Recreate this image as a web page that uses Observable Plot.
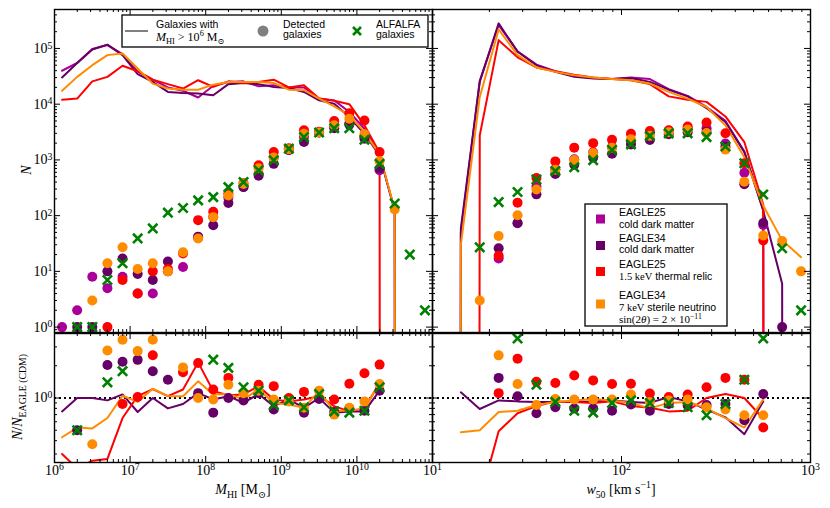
<!DOCTYPE html>
<html><head><meta charset="utf-8">
<script src="https://cdn.jsdelivr.net/npm/d3@7"></script>
<script src="https://cdn.jsdelivr.net/npm/@observablehq/plot@0.6"></script>
<style>
body{margin:0;background:#fff;}
#fig{position:relative;width:830px;height:508px;overflow:hidden;background:#fff;}
</style></head><body><div id="fig"></div>
<script>
// ---------------- data ----------------
// log10(M_HI) bin centres
const massBins = [6.1,6.3,6.5,6.7,6.9,7.1,7.3,7.5,7.7,7.9,8.1,8.3,8.5,8.7,8.9,9.1,9.3,9.5,9.7,9.9,10.1,10.3,10.5,10.7,10.9];
// log10(w50) bin centres
const wBins = [1.05,1.15,1.25,1.35,1.45,1.55,1.65,1.75,1.85,1.95,2.05,2.15,2.25,2.35,2.45,2.55,2.65,2.75,2.85,2.95];

// Top-left: all galaxies (lines), bins 6.1 .. 10.7
const mLineMag = [39800,55000,97700,115000,79400,38900,27500,20000,17400,13200,21400,25100,25700,20900,21900,20000,20000,12600,11700,7240,3630,1260,120,0];
const mLinePur = [30200,55000,95500,117000,75900,34700,25100,16600,15800,15500,14500,22900,24000,22900,20400,19500,16600,11700,10200,5890,2950,1200,126,0];
const mLineRed = [12000,12600,25700,30900,49000,38900,27500,22900,19100,26900,20400,25700,24000,25100,27500,20000,21900,12600,11500,10000,4170,1350,0];
const mLineOra = [17400,30900,50100,75900,81300,43700,23400,19100,18200,18200,22400,25100,25100,25100,24000,18200,17800,12600,9100,6310,3160,1260,129,0];
// Top-left: detected galaxies (dots), bins 6.1 .. 10.9
const mDotMag = [1,2,8,5,8,4,4,10,12,40,95,210,330,560,1100,1600,2600,3100,4000,4500,2600,650,null,null,null];
const mDotPur = [null,1,1,10,17,9,7,15,null,42,67,169,325,520,850,1500,2100,3100,3700,4300,2400,700,null,null,null];
const mDotRed = [null,null,null,1,7,4,10,11,21,83,117,250,380,800,1380,1600,3390,3200,5000,6900,5100,1380,null,null,null];
const mDotOra = [null,null,3,14,27,11,14,10,22,39,94,231,370,710,1100,1550,2950,3100,4200,5500,2900,950,129,null,null];
const mAlfalfa = [null,1,1,7,14,39,59,113,137,188,215,325,400,650,985,1590,2570,3100,3700,3700,2300,850,165,20,2];

// Top-right: all galaxies (lines), bins 1.05 .. 2.95
const wLineMag = [0,50,26300,263000,89100,51300,38900,31600,29500,28200,30200,28200,18600,14100,8910,5010,1410,126,0];
const wLinePur = [0,59,25100,282000,87100,50100,38000,30900,28800,28200,29500,25100,18200,13800,8510,4790,1380,123,6,0];
const wLineRed = [0,0,2750,141000,69200,45700,38900,33900,30200,28200,26900,22900,13800,12000,11000,6030,2090,158,0];
const wLineOra = [0,30,13500,219000,75900,45700,38000,33100,30200,28200,26900,23400,16600,12600,8910,4170,1120,151,36,18];
// Top-right: detected galaxies (dots), bins 1.25 .. 2.95
const wDotMag = [null,17,73,335,680,1025,1370,1700,2170,3000,3320,3690,3710,1960,590,68,null,null];
const wDotPur = [null,26,74,241,558,820,1100,1290,1890,2280,2900,3140,3190,1720,366,74,1,null];
const wDotRed = [null,19,171,475,940,1660,2000,2290,2950,3310,3390,3980,4680,3020,870,36,null,null];
const wDotOra = [3,43,102,295,666,995,1330,1650,2340,2700,3150,3500,3040,1530,407,44,35,10];
const wAlfalfa = [27,175,265,445,630,740,990,1500,1900,2700,3000,3000,2570,1740,870,240,26,2];

// Bottom-left ratios N/N_EAGLE25(CDM), bins 6.1 .. 10.3
const mRatLinePur = [0.75,1.0,1.0,0.95,1.08,0.74,1.0,0.80,0.88,1.11,0.97,1.04,0.90,1.09,0.84,0.97,0.81,1.0,0.73,0.75,0.75,1.17];
const mRatLineRed = [0.30,0.22,0.26,0.27,0.65,1.04,1.21,1.04,1.2,2.15,1.16,1.06,1.08,1.29,0.97,0.93,0.97,1.04,0.84,0.75,0.80,1.38];
const mRatLineOra = [0.43,0.53,0.52,0.65,1.05,0.92,1.22,1.04,1.04,1.43,1.08,1.09,0.97,1.2,0.9,0.87,0.81,1.16,0.76,0.76,0.80,1.38];
const mRatDotPur = [null,0.5,null,2.03,2.18,2.27,1.78,1.48,null,1.11,0.73,1.0,0.95,1.11,0.78,0.97,0.73,0.98,0.74,0.80,0.76,1.17];
const mRatDotRed = [null,null,null,null,0.88,1.02,2.51,null,1.74,2.12,1.2,1.54,null,1.33,1.29,1.0,1.14,null,0.97,1.36,1.70,2.05];
const mRatDotOra = [null,null,0.37,2.78,3.5,2.74,3.5,null,1.93,1.0,0.97,1.33,1.11,1.17,0.97,0.93,0.81,1.17,0.70,0.81,0.93,1.35];
const mRatAlfalfa = [null,0.5,null,1.40,1.78,null,null,null,null,null,2.28,1.91,1.26,1.17,0.86,0.95,0.82,1.09,0.75,0.73,0.76,1.26];

// Bottom-right ratios, lines bins 1.15 .. 2.75, dots bins 1.35 .. 2.75
const wRatLinePur = [1.13,0.79,0.95,0.93,0.92,0.92,0.92,0.93,0.95,0.92,0.90,1.02,0.93,0.78,0.66,0.46,0.93];
const wRatLineRed = [null,0.11,0.49,0.72,0.84,0.93,0.92,0.90,0.93,0.84,0.81,0.75,0.76,1.0,1.09,1.0,0.64];
const wRatLineOra = [0.48,0.50,0.74,0.76,0.86,0.92,0.95,0.98,0.95,0.90,0.80,0.90,0.92,0.80,0.65,0.53,0.97];
const wRatDotPur = [1.54,1.04,0.72,0.82,0.80,0.80,0.76,0.87,0.76,0.88,0.85,0.86,0.88,0.62,1.09];
const wRatDotRed = [1.11,2.33,1.42,1.38,1.62,1.46,1.35,1.36,1.10,1.02,1.08,1.26,1.54,1.48,0.53];
const wRatDotOra = [2.50,1.35,0.86,0.98,0.97,0.97,0.97,1.08,0.92,0.95,0.97,0.82,0.78,0.69,0.69];
const wRatAlfalfa = [null,3.6,1.33,0.92,0.76,0.73,0.90,0.95,0.90,0.90,0.82,0.69,0.88,1.48,3.6];

// tick labels: [value, base, exponent]
const mTickLabels = [[1e6,"10","6"],[1e7,"10","7"],[1e8,"10","8"],[1e9,"10","9"],[1e10,"10","10"]];
const wTickLabels = [[10,"10","1"],[100,"10","2"],[1000,"10","3"]];
const nTickLabels = [[1,"10","0"],[10,"10","1"],[100,"10","2"],[1000,"10","3"],[1e4,"10","4"],[1e5,"10","5"]];
const rTickLabels = [[1,"10","0"]];

const legendModels = [
  ["EAGLE25","cold dark matter"],
  ["EAGLE34","cold dark matter"],
  ["EAGLE25","1.5 keV thermal relic"],
  ["EAGLE34","7 keV sterile neutrino","sin(2θ) = 2 × 10−11"]
];

// ---------------- styles ----------------
const COL = {mag:"#aa0099", pur:"#660066", red:"#ff0000", ora:"#ff8c00", alf:"#008000", gray:"#808080"};
const SERIF = "'Liberation Serif','DejaVu Serif',serif";
const SANS = "'Liberation Sans','DejaVu Sans',sans-serif";
const TINY = 1e-300; // empty bins on a log axis (drawn as vertical drops)

function pts(bins, vals, offset = 0) {
  const out = [];
  vals.forEach((v, i) => {
    if (v == null) return;
    out.push({x: 10 ** bins[i + offset], y: v === 0 ? TINY : v});
  });
  return out;
}

function logTicks(lo, hi) {
  const maj = [], min = [];
  for (let e = Math.floor(Math.log10(lo)) - 1; e <= Math.ceil(Math.log10(hi)); e++) {
    const p = 10 ** e;
    if (p >= lo * 0.999 && p <= hi * 1.001) maj.push(p);
    for (let k = 2; k < 10; k++) { const v = k * p; if (v > lo * 1.001 && v < hi * 0.999) min.push(v); }
  }
  return {maj, min};
}

const fig = document.getElementById("fig");

// turn "10|5" tick texts into 10 with a raised exponent
function supify(svg) {
  d3.select(svg).selectAll("text").each(function () {
    const s = this.textContent;
    if (!s.includes("|")) return;
    const [b, e] = s.split("|");
    const t = d3.select(this);
    t.text(null);
    t.append("tspan").text(b);
    t.append("tspan").text(e).attr("dy", "-0.45em").attr("font-size", "70%");
  });
}

function panel({left, top, width, height, mL, mT, mR, mB, xDom, yDom, marks, xLabels, yLabels}) {
  const iw = width - mL - mR, ih = height - mT - mB;
  const xt = logTicks(xDom[0], xDom[1]), yt = logTicks(yDom[0], yDom[1]);
  const TM = 6, Tm = 3, ts = {stroke: "#000", strokeWidth: 1};
  const svg = Plot.plot({
    width, height, marginLeft: mL, marginTop: mT, marginRight: mR, marginBottom: mB,
    x: {type: "log", domain: xDom, axis: null},
    y: {type: "log", domain: yDom, axis: null},
    style: {background: "transparent", overflow: "visible"},
    marks: [
      ...marks,
      Plot.tickX(xt.maj, {x: d => d, insetTop: ih - TM, ...ts}),
      Plot.tickX(xt.maj, {x: d => d, insetBottom: ih - TM, ...ts}),
      Plot.tickX(xt.min, {x: d => d, insetTop: ih - Tm, ...ts}),
      Plot.tickX(xt.min, {x: d => d, insetBottom: ih - Tm, ...ts}),
      Plot.tickY(yt.maj, {y: d => d, insetRight: iw - TM, ...ts}),
      Plot.tickY(yt.maj, {y: d => d, insetLeft: iw - TM, ...ts}),
      Plot.tickY(yt.min, {y: d => d, insetRight: iw - Tm, ...ts}),
      Plot.tickY(yt.min, {y: d => d, insetLeft: iw - Tm, ...ts}),
      Plot.frame({stroke: "#000", strokeWidth: 1.4}),
      xLabels ? Plot.text(xLabels, {x: d => d[0], text: d => d[1] + "|" + d[2], frameAnchor: "bottom", dy: 12, fontSize: 14, fontFamily: SERIF, fill: "#000"}) : null,
      yLabels ? Plot.text(yLabels, {y: d => d[0], text: d => d[1] + "|" + d[2], frameAnchor: "left", textAnchor: "end", dx: -2, fontSize: 14, fontFamily: SERIF, fill: "#000"}) : null
    ]
  });
  supify(svg);
  svg.style.position = "absolute";
  svg.style.left = left + "px";
  svg.style.top = top + "px";
  fig.appendChild(svg);
}

function lineMark(data, color, w = 2) {
  return Plot.line(data, {x: "x", y: "y", stroke: color, strokeWidth: w, clip: true});
}
function dotMark(data, color) {
  return Plot.dot(data, {x: "x", y: "y", r: 5, fill: color, stroke: "none", clip: true});
}
function crossMark(data) {
  return Plot.dot(data, {x: "x", y: "y", symbol: "times", r: 4.3, stroke: COL.alf, strokeWidth: 2.6, clip: true});
}

const MDOM = [1e6, 1e11], WDOM = [10, 1000], NDOM = [0.8, 5e5], RDOM = [0.25, 4];

// top-left
panel({left: 0, top: 0, width: 432, height: 333, mL: 54, mT: 9, mR: 0, mB: 1, xDom: MDOM, yDom: NDOM,
  yLabels: nTickLabels,
  marks: [
    lineMark(pts(massBins, mLineMag), COL.mag),
    lineMark(pts(massBins, mLinePur), COL.pur),
    lineMark(pts(massBins, mLineRed), COL.red),
    lineMark(pts(massBins, mLineOra), COL.ora),
    dotMark(pts(massBins, mDotMag), COL.mag),
    dotMark(pts(massBins, mDotPur), COL.pur),
    dotMark(pts(massBins, mDotRed), COL.red),
    dotMark(pts(massBins, mDotOra), COL.ora),
    crossMark(pts(massBins, mAlfalfa))
  ]});

// top-right
panel({left: 432, top: 0, width: 398, height: 333, mL: 0, mT: 9, mR: 20, mB: 1, xDom: WDOM, yDom: NDOM,
  marks: [
    lineMark(pts(wBins, wLineMag), COL.mag),
    lineMark(pts(wBins, wLinePur), COL.pur),
    lineMark(pts(wBins, wLineRed), COL.red),
    lineMark(pts(wBins, wLineOra), COL.ora),
    dotMark(pts(wBins, wDotMag, 2), COL.mag),
    dotMark(pts(wBins, wDotPur, 2), COL.pur),
    dotMark(pts(wBins, wDotRed, 2), COL.red),
    dotMark(pts(wBins, wDotOra, 2), COL.ora),
    crossMark(pts(wBins, wAlfalfa, 2))
  ]});

// bottom-left
panel({left: 0, top: 333, width: 432, height: 175, mL: 54, mT: 0, mR: 0, mB: 46, xDom: MDOM, yDom: RDOM,
  xLabels: mTickLabels, yLabels: rTickLabels,
  marks: [
    Plot.ruleY([1], {stroke: "#000", strokeWidth: 2, strokeDasharray: "2,3"}),
    lineMark(pts(massBins, mRatLinePur), COL.pur),
    lineMark(pts(massBins, mRatLineRed), COL.red),
    lineMark(pts(massBins, mRatLineOra), COL.ora),
    dotMark(pts(massBins, mRatDotPur), COL.pur),
    dotMark(pts(massBins, mRatDotRed), COL.red),
    dotMark(pts(massBins, mRatDotOra), COL.ora),
    crossMark(pts(massBins, mRatAlfalfa))
  ]});

// bottom-right
panel({left: 432, top: 333, width: 398, height: 175, mL: 0, mT: 0, mR: 20, mB: 46, xDom: WDOM, yDom: RDOM,
  xLabels: wTickLabels,
  marks: [
    Plot.ruleY([1], {stroke: "#000", strokeWidth: 2, strokeDasharray: "2,3"}),
    lineMark(pts(wBins, wRatLinePur, 1), COL.pur),
    lineMark(pts(wBins, wRatLineRed, 1), COL.red),
    lineMark(pts(wBins, wRatLineOra, 1), COL.ora),
    dotMark(pts(wBins, wRatDotPur, 3), COL.pur),
    dotMark(pts(wBins, wRatDotRed, 3), COL.red),
    dotMark(pts(wBins, wRatDotOra, 3), COL.ora),
    crossMark(pts(wBins, wRatAlfalfa, 3))
  ]});

// ---------------- overlay: axis titles and legends ----------------
const ov = d3.select(fig).append("svg").attr("width", 830).attr("height", 508)
  .style("position", "absolute").style("left", "0px").style("top", "0px").style("pointer-events", "none");

function rich(x, y, parts, {size = 13, family = SERIF, anchor = "start", rotate = false, supShift = 0.42} = {}) {
  const t = ov.append("text").attr("x", x).attr("y", y).attr("font-size", size)
    .attr("font-family", family).attr("text-anchor", anchor).attr("fill", "#000");
  if (rotate) t.attr("transform", `rotate(-90 ${x} ${y})`);
  let shift = 0;
  for (const p of parts) {
    const s = t.append("tspan").text(p.t);
    const target = p.sub ? size * 0.28 : p.sup ? -size * supShift : 0;
    s.attr("dy", target - shift); shift = target;
    if (p.sub || p.sup) s.attr("font-size", size * 0.7);
    if (p.it) s.attr("font-style", "italic");
    if (p.ff) s.attr("font-family", p.ff);
  }
  return t;
}

// axis titles
rich(243, 494, [{t: "M", it: 1}, {t: "HI", sub: 1}, {t: " [M"}, {t: "⊙", sub: 1}, {t: "]"}], {size: 14, anchor: "middle"});
rich(621, 494, [{t: "w", it: 1}, {t: "50", sub: 1}, {t: " [km s"}, {t: "−1", sup: 1}, {t: "]"}], {size: 14, anchor: "middle"});
rich(31, 170, [{t: "N", it: 1}], {size: 14, anchor: "middle", rotate: true});
rich(22, 397, [{t: "N", it: 1}, {t: "/"}, {t: "N", it: 1}, {t: "EAGLE (CDM)", sub: 1}], {size: 14, anchor: "middle", rotate: true});

// top legend
ov.append("rect").attr("x", 122).attr("y", 15).attr("width", 306).attr("height", 32)
  .attr("fill", "#fff").attr("stroke", "#000").attr("stroke-width", 1.3);
ov.append("line").attr("x1", 125).attr("x2", 148).attr("y1", 31).attr("y2", 31).attr("stroke", COL.gray).attr("stroke-width", 2);
rich(156, 27.5, [{t: "Galaxies with"}], {size: 10.5, family: SANS});
rich(156, 40.5, [{t: "M", it: 1}, {t: "HI", sub: 1}, {t: " > 10"}, {t: "6", sup: 1}, {t: " M"}, {t: "⊙", sub: 1}], {size: 12, supShift: 0.36});
ov.append("circle").attr("cx", 263).attr("cy", 31).attr("r", 5.5).attr("fill", COL.gray);
rich(283, 27.5, [{t: "Detected"}], {size: 10.5, family: SANS});
rich(283, 38, [{t: "galaxies"}], {size: 10.5, family: SANS});
ov.append("path").attr("d", "M353,27L361,35M353,35L361,27").attr("stroke", COL.alf).attr("stroke-width", 2.6).attr("fill", "none");
rich(376, 27.5, [{t: "ALFALFA"}], {size: 10.5, family: SANS});
rich(376, 38, [{t: "galaxies"}], {size: 10.5, family: SANS});

// model legend
ov.append("rect").attr("x", 585).attr("y", 204).attr("width", 142).attr("height", 122)
  .attr("fill", "#fff").attr("stroke", "#000").attr("stroke-width", 1.3);
const legCols = [COL.mag, COL.pur, COL.red, COL.ora];
const legSq = [219, 245.5, 271.5, 304];
const legBase = [[215.5, 228], [241.5, 253], [268, 280], [298.5, 310.5, 323]];
legendModels.forEach((m, i) => {
  ov.append("rect").attr("x", 596).attr("y", legSq[i] - 4.5).attr("width", 9).attr("height", 9).attr("fill", legCols[i]);
  rich(619, legBase[i][0], [{t: m[0]}], {size: 10.5, family: SANS});
  if (i < 2) rich(619, legBase[i][1], [{t: m[1]}], {size: 10.5, family: SANS});
  if (i === 2) rich(619, legBase[i][1], [{t: "1.5 keV", ff: SERIF}, {t: " thermal relic"}], {size: 10.5, family: SANS});
  if (i === 3) {
    rich(619, legBase[i][1], [{t: "7 keV", ff: SERIF}, {t: " sterile neutrino"}], {size: 10.5, family: SANS});
    rich(619, legBase[i][2], [{t: "sin(2"}, {t: "θ", it: 1}, {t: ") = 2 × 10"}, {t: "−11", sup: 1}], {size: 11, supShift: 0.32});
  }
});
</script></body></html>
